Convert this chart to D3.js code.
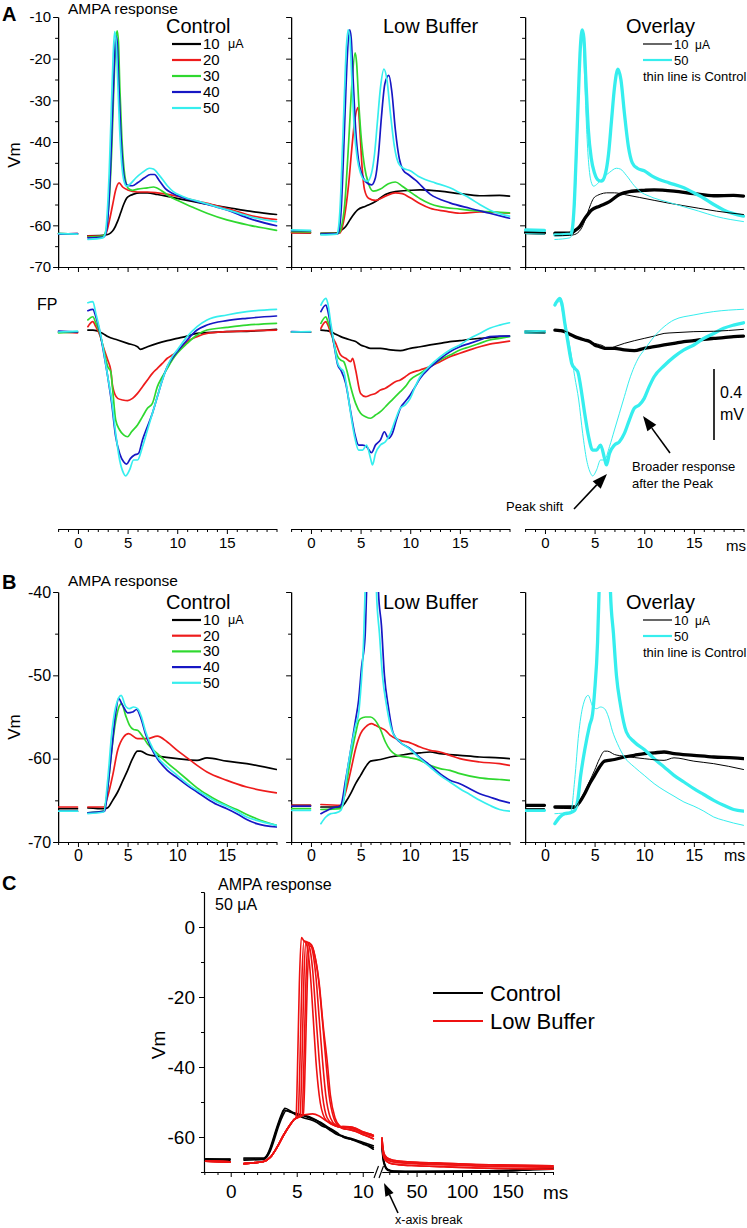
<!DOCTYPE html>
<html><head><meta charset="utf-8">
<script src="https://cdn.jsdelivr.net/npm/d3@7"></script>
<style>body{margin:0;background:#fff} svg{display:block}</style>
</head><body><script>
// ---------------- DATA (time ms, value) ; null = recording gap ----------------
const currents = [10, 20, 30, 40, 50];
const aVmTicks = [-10, -20, -30, -40, -50, -60, -70];
const aVmMinor = [-15, -25, -35, -45, -55, -65];
const bVmTicks = [-40, -50, -60, -70];
const bVmMinor = [-45, -55, -65];
const timeTicks = [0, 5, 10, 15];
const timeMinor = [-2, -1, 1, 2, 3, 4, 6, 7, 8, 9, 11, 12, 13, 14, 16, 17, 18, 19, 20];
const cVmTicks = [0, -20, -40, -60];
const cVmMinor = [10, -10, -30, -50, -70];
const cTimeTicks1 = [0, 5, 10];
const cTimeMinor1 = [-2, -1, 1, 2, 3, 4, 6, 7, 8, 9];
const cTimeTicks2 = [50, 100, 150];
const cTimeMinor2 = [20, 30, 40, 60, 70, 80, 90, 110, 120, 130, 140, 160, 170, 180, 190, 200];
const fpScaleBar = 0.4; // mV

// Panel A, Vm, Control
const aVmCtrl10 = [[-1.95,-62.0],[-0.05,-62.1],[0.5,null],[1.0,-62.5],[2.5,-62.4],[3.0,-62.2],[3.3,-61.8],[3.6,-61.0],[4.0,-59.0],[4.3,-57.0],[4.6,-55.0],[4.9,-53.5],[5.3,-52.8],[5.6,-52.5],[6.2,-52.2],[7.0,-52.2],[8.0,-52.6],[9.5,-53.3],[11,-54.0],[12.3,-54.6],[14,-55.3],[15.5,-55.9],[17.3,-56.6],[20,-57.4]];
const aVmCtrl20 = [[-1.95,-62.1],[-0.05,-62.0],[0.5,null],[1.0,-62.6],[2.6,-62.5],[2.9,-61.5],[3.2,-58.5],[3.5,-55],[3.8,-51.5],[4.15,-49.8],[4.5,-50.8],[5.0,-51.5],[6.0,-52.0],[7.0,-52.0],[8.0,-52.2],[10,-53.0],[12,-54.2],[13.5,-55],[15.5,-56.3],[17.3,-57.6],[20,-58.6]];
const aVmCtrl30 = [[-1.95,-62.0],[-0.05,-62.1],[0.5,null],[1.0,-62.8],[2.5,-62.6],[2.8,-61.5],[3.0,-58],[3.2,-52],[3.4,-42],[3.6,-28],[3.8,-16],[3.95,-13.3],[4.08,-16],[4.22,-27],[4.42,-39],[4.62,-46],[4.82,-49.5],[5.1,-51.2],[5.5,-51.6],[6.0,-51.3],[7.0,-51.0],[7.6,-50.8],[8.5,-51.8],[9.2,-53],[10,-54],[11.5,-55.6],[13,-57.1],[15,-58.7],[17.3,-60.0],[20,-61.2]];
const aVmCtrl40 = [[-1.95,-62.1],[-0.05,-62.0],[0.5,null],[1.0,-63.0],[2.6,-62.8],[2.85,-61.5],[3.05,-57],[3.25,-48],[3.45,-35],[3.65,-22],[3.82,-14.5],[3.95,-16],[4.1,-25],[4.3,-37],[4.5,-45],[4.75,-49.5],[5.0,-50.4],[5.5,-50.5],[6.0,-49.8],[6.7,-48.6],[7.3,-47.8],[7.7,-47.8],[8.2,-49.3],[8.8,-51.2],[9.5,-52.3],[10.5,-53.3],[12,-54.3],[13.5,-55.3],[15,-56.3],[17.3,-58.4],[20,-60.1]];
const aVmCtrl50 = [[-1.95,-62.0],[-0.05,-62.1],[0.5,null],[1.0,-63.4],[2.5,-63.0],[2.75,-62],[2.95,-57],[3.15,-47],[3.35,-33],[3.55,-19],[3.7,-13.5],[3.85,-16],[4.0,-25],[4.2,-37],[4.4,-45],[4.65,-49.5],[4.9,-50.6],[5.3,-50.0],[5.8,-48.7],[6.5,-47.3],[7.2,-46.3],[7.6,-46.5],[8.2,-48],[9.0,-50.5],[9.6,-51.9],[10.5,-53.0],[12.5,-54.5],[15.5,-56.6],[17.3,-57.9],[20,-59.1]];
// Panel A, Vm, Low Buffer
const aVmLb10 = [[-1.95,-61.7],[-0.05,-61.8],[0.5,null],[1.0,-61.9],[2.7,-61.8],[3.0,-61.3],[3.5,-60.3],[4.0,-58.4],[4.7,-56.3],[5.5,-55.4],[6.5,-54.3],[7.5,-52.6],[8.5,-51.9],[10,-51.6],[11,-51.5],[13,-51.8],[15,-52.4],[17,-52.9],[19,-52.8],[20,-53.0]];
const aVmLb20 = [[-1.95,-61.8],[-0.05,-61.8],[0.5,null],[1.0,-62.0],[2.9,-61.9],[3.2,-60],[3.5,-56],[3.8,-50],[4.1,-42],[4.4,-35],[4.75,-31.7],[4.95,-38],[5.15,-46],[5.4,-51.5],[5.8,-53.5],[6.5,-54.0],[7.5,-53.0],[8.5,-52.2],[9.2,-52.4],[10,-53.4],[11,-54.8],[12,-55.9],[13.5,-56.6],[15,-57.1],[17,-56.8],[20,-57.1]];
const aVmLb30 = [[-1.95,-61.5],[-0.05,-61.6],[0.5,null],[1.0,-62.0],[2.8,-61.9],[3.0,-61.0],[3.4,-55],[3.8,-40],[4.1,-27],[4.45,-18.6],[4.6,-21],[4.8,-30],[5.1,-40],[5.4,-46],[5.8,-50],[6.3,-51.8],[7.0,-51.3],[7.8,-50.0],[8.5,-49.6],[9.2,-50.6],[10,-52],[11,-53.6],[12,-54.8],[13,-55.5],[15,-56.1],[17,-56.6],[20,-57.0]];
const aVmLb40 = [[-1.95,-61.3],[-0.05,-61.3],[0.5,null],[1.0,-62.1],[2.7,-62.0],[2.85,-61.0],[3.05,-56],[3.25,-45],[3.45,-32],[3.65,-20],[3.9,-13.1],[4.05,-15],[4.25,-25],[4.5,-37],[4.8,-44.5],[5.1,-47.5],[5.5,-49.5],[6.1,-50.3],[6.5,-48.5],[6.8,-43],[7.1,-34],[7.45,-26],[7.85,-24],[8.15,-28],[8.5,-37],[8.9,-44],[9.3,-46.8],[9.8,-47.8],[10.5,-49.1],[12,-52.5],[14,-54.6],[16,-55.9],[18,-57.1],[20,-58.3]];
const aVmLb50 = [[-1.95,-61.1],[-0.05,-61.2],[0.5,null],[1.0,-62.3],[2.6,-62.1],[2.75,-61.0],[2.95,-55],[3.15,-43],[3.35,-30],[3.55,-18],[3.75,-13.1],[3.92,-15],[4.12,-25],[4.37,-37],[4.67,-44],[5.0,-47.5],[5.4,-49.2],[5.7,-49.4],[6.1,-47.5],[6.4,-43],[6.7,-35],[7.0,-27],[7.35,-22.5],[7.65,-25],[8.0,-33],[8.4,-41],[8.8,-45],[9.3,-46.3],[10,-46.9],[10.8,-48.2],[11.5,-49.0],[12.5,-49.8],[14,-51.0],[15,-52.2],[16,-53.5],[17,-55],[18,-56.3],[19,-57.2],[20,-57.8]];

// Panel A, field potential (mV), Control
const aFpCtrl10 = [[-1.95,0],[-0.05,0],[0.5,null],[1.0,0.011],[1.5,0.011],[2.5,-0.008],[3.0,-0.026],[4.0,-0.045],[5.0,-0.064],[6.0,-0.083],[6.3,-0.098],[7.0,-0.083],[8.0,-0.064],[9.0,-0.049],[10,-0.036],[11,-0.023],[12,-0.008],[13,-0.004],[15,0.002],[17,0.004],[20,0.015]];
const aFpCtrl20 = [[-1.95,0],[-0.05,-0.005],[0.5,null],[1.0,0.03],[1.5,0.058],[1.8,0.03],[2.2,-0.017],[2.6,-0.092],[3.0,-0.158],[3.3,-0.214],[3.5,-0.308],[4.0,-0.374],[4.5,-0.383],[5.0,-0.387],[5.5,-0.374],[6.0,-0.346],[6.5,-0.308],[7.0,-0.27],[7.5,-0.233],[8.0,-0.205],[8.5,-0.177],[9.0,-0.148],[9.5,-0.13],[10,-0.111],[11,-0.054],[12,-0.026],[13,-0.008],[15,0.002],[17,0.006],[20,0.011]];
const aFpCtrl30 = [[-1.95,-0.005],[-0.05,0],[0.5,null],[1.0,0.068],[1.5,0.086],[1.8,0.05],[2.2,-0.008],[2.6,-0.102],[3.0,-0.195],[3.3,-0.223],[3.5,-0.327],[3.8,-0.496],[4.2,-0.552],[4.6,-0.58],[5.0,-0.59],[5.4,-0.562],[6.0,-0.524],[6.5,-0.477],[7.0,-0.43],[7.5,-0.402],[8.0,-0.308],[8.5,-0.252],[9.0,-0.205],[9.5,-0.158],[10,-0.12],[11,-0.064],[12,-0.017],[13,0.011],[15,0.026],[17,0.039],[20,0.049]];
const aFpCtrl40 = [[-1.95,0.005],[-0.05,0],[0.5,null],[1.0,0.12],[1.5,0.128],[1.8,0.086],[2.2,0.002],[2.6,-0.12],[3.0,-0.252],[3.4,-0.402],[3.8,-0.59],[4.2,-0.684],[4.6,-0.731],[4.9,-0.744],[5.3,-0.712],[5.7,-0.693],[6.1,-0.684],[6.5,-0.608],[7.0,-0.533],[7.5,-0.458],[8.0,-0.364],[8.5,-0.27],[9.0,-0.195],[9.5,-0.148],[10,-0.111],[11,-0.045],[12,0.011],[13,0.039],[15,0.064],[17,0.077],[20,0.09]];
const aFpCtrl50 = [[-1.95,0],[-0.05,0.005],[0.5,null],[1.0,0.165],[1.5,0.171],[1.8,0.105],[2.2,0.011],[2.6,-0.111],[3.0,-0.252],[3.4,-0.383],[3.8,-0.571],[4.2,-0.721],[4.6,-0.796],[4.8,-0.811],[5.2,-0.777],[5.6,-0.721],[6.0,-0.721],[6.5,-0.646],[7.0,-0.552],[7.5,-0.458],[8.0,-0.364],[8.5,-0.27],[9.0,-0.195],[9.5,-0.139],[10,-0.101],[11,-0.026],[12,0.03],[13,0.068],[15,0.096],[17,0.115],[20,0.128]];
// Panel A, field potential (mV), Low Buffer
const aFpLb10 = [[-1.95,0],[-0.05,0],[0.5,null],[1.0,0.011],[1.5,0.008],[2.0,0.002],[2.5,-0.013],[3.0,-0.026],[3.5,-0.036],[4.0,-0.045],[4.5,-0.054],[5.0,-0.073],[5.5,-0.083],[6.0,-0.092],[7.0,-0.092],[8.0,-0.101],[9.0,-0.105],[10,-0.092],[11,-0.083],[12,-0.073],[13,-0.064],[14,-0.054],[15,-0.049],[16,-0.041],[17,-0.036],[18,-0.032],[19,-0.026],[20,-0.023]];
const aFpLb20 = [[-1.95,0],[-0.05,0],[0.5,null],[1.0,0.021],[1.5,0.058],[1.7,0.04],[2.0,-0.008],[2.5,-0.064],[3.0,-0.13],[3.5,-0.148],[4.0,-0.167],[4.2,-0.148],[4.5,-0.214],[5.0,-0.346],[5.5,-0.364],[6.0,-0.355],[6.5,-0.346],[7.0,-0.327],[7.5,-0.317],[8.0,-0.299],[8.5,-0.28],[9.0,-0.27],[9.5,-0.252],[10,-0.233],[11,-0.214],[12,-0.195],[13,-0.167],[14,-0.139],[15,-0.12],[16,-0.101],[17,-0.083],[18,-0.068],[19,-0.06],[20,-0.051]];
const aFpLb30 = [[-1.95,0],[-0.05,0],[0.5,null],[1.0,0.049],[1.5,0.086],[1.7,0.06],[2.0,0.011],[2.3,-0.064],[2.7,-0.139],[3.0,-0.158],[3.3,-0.167],[3.6,-0.214],[4.0,-0.308],[4.5,-0.402],[5.0,-0.458],[5.5,-0.477],[6.0,-0.486],[6.5,-0.468],[7.0,-0.449],[7.5,-0.421],[8.0,-0.392],[8.5,-0.364],[9.0,-0.336],[9.5,-0.308],[10,-0.27],[11,-0.233],[12,-0.195],[13,-0.158],[14,-0.13],[15,-0.101],[16,-0.083],[17,-0.064],[18,-0.045],[19,-0.036],[20,-0.026]];
const aFpLb40 = [[-1.95,0.002],[-0.05,0],[0.5,null],[1.0,0.115],[1.5,0.152],[1.7,0.12],[2.0,0.03],[2.3,-0.064],[2.7,-0.186],[3.0,-0.214],[3.5,-0.289],[4.0,-0.449],[4.4,-0.571],[4.8,-0.637],[5.2,-0.637],[5.6,-0.646],[6.1,-0.68],[6.5,-0.637],[7.0,-0.608],[7.4,-0.562],[7.8,-0.599],[8.2,-0.571],[8.6,-0.496],[9.0,-0.43],[9.5,-0.392],[10,-0.355],[10.5,-0.308],[11,-0.261],[12,-0.2],[13,-0.152],[14,-0.111],[15,-0.083],[16,-0.064],[17,-0.045],[18,-0.026],[19,-0.023],[20,-0.023]];
const aFpLb50 = [[-1.95,0],[-0.05,0.002],[0.5,null],[1.0,0.152],[1.5,0.19],[1.7,0.161],[2.0,0.049],[2.3,-0.054],[2.7,-0.177],[3.0,-0.205],[3.3,-0.223],[3.6,-0.308],[4.0,-0.458],[4.4,-0.59],[4.8,-0.665],[5.2,-0.665],[5.6,-0.637],[6.0,-0.712],[6.2,-0.749],[6.5,-0.684],[7.0,-0.637],[7.5,-0.618],[8.0,-0.571],[8.5,-0.496],[9.0,-0.43],[9.5,-0.411],[10,-0.374],[10.5,-0.308],[11,-0.252],[12,-0.19],[13,-0.14],[14,-0.101],[15,-0.073],[16,-0.036],[17,-0.008],[18,0.021],[19,0.039],[20,0.052]];

// Panel B, Vm, Control
const bVmCtrl10 = [[-1.95,-66.0],[-0.05,-66.0],[0.5,null],[1.0,-65.9],[2.7,-66.0],[3.0,-65.9],[3.5,-65.0],[4.0,-64.0],[4.5,-62.7],[5.0,-61.4],[5.5,-60.0],[6.0,-59.1],[6.3,-59.1],[7.0,-59.5],[8.0,-59.7],[10,-60.0],[12,-60.2],[13,-59.9],[15,-60.3],[17,-60.6],[20,-61.3]];
const bVmCtrl20 = [[-1.95,-65.8],[-0.05,-65.8],[0.5,null],[1.0,-65.8],[2.6,-65.8],[3.0,-64.5],[3.5,-62.0],[4.0,-59.0],[4.6,-57.4],[5.1,-57.0],[6.0,-57.6],[7.0,-57.6],[8.0,-57.3],[9.0,-58.0],[10,-59.0],[11,-59.9],[12,-60.8],[13,-61.6],[15,-62.6],[17,-63.4],[20,-64.1]];
const bVmCtrl30 = [[-1.95,-66.3],[-0.05,-66.3],[0.5,null],[1.0,-66.5],[2.6,-66.3],[3.0,-63.5],[3.4,-59.0],[3.8,-55.5],[4.2,-53.6],[4.4,-53.4],[4.8,-54.8],[5.2,-56.0],[5.6,-56.5],[6.0,-56.6],[6.5,-57.3],[7.0,-58.2],[8.0,-59.4],[9.0,-60.5],[10,-61.5],[11,-62.5],[12,-63.5],[13,-64.3],[14,-65.0],[15,-65.6],[16,-66.1],[17,-66.7],[18,-67.2],[20,-68.0]];
const bVmCtrl40 = [[-1.95,-66.3],[-0.05,-66.3],[0.5,null],[1.0,-66.5],[2.7,-66.3],[3.0,-63.5],[3.4,-59.0],[3.8,-54.5],[4.1,-52.8],[4.5,-53.6],[5.0,-54.5],[5.5,-54.4],[5.9,-54.1],[6.3,-55.0],[6.8,-57.0],[7.3,-58.5],[8.0,-60.0],[9.0,-61.4],[10,-62.3],[11,-63.2],[12,-64.0],[13,-64.8],[14,-65.5],[15,-66.0],[16,-66.6],[17,-67.3],[18,-67.8],[20,-68.2]];
const bVmCtrl50 = [[-1.95,-66.3],[-0.05,-66.3],[0.5,null],[1.0,-66.6],[2.6,-66.4],[3.0,-62.5],[3.4,-57.0],[3.8,-53.8],[4.35,-52.4],[4.8,-53.7],[5.2,-54.0],[5.6,-53.8],[6.0,-54.0],[6.4,-55.0],[6.8,-56.7],[7.3,-58.2],[8.0,-59.8],[9.0,-61.0],[10,-62.0],[11,-63.0],[12,-63.8],[13,-64.5],[14,-65.2],[15,-65.7],[16,-66.3],[17,-67.0],[18,-67.4],[20,-68.0]];
// Panel B, Vm, Low Buffer
const bVmLb10 = [[-1.95,-65.6],[-0.05,-65.6],[0.5,null],[1.0,-65.8],[3.0,-65.8],[3.5,-65.2],[4.0,-64.2],[4.5,-63.0],[5.0,-62.0],[5.5,-61.0],[6.0,-60.3],[7.0,-60.1],[8.0,-59.8],[9.0,-59.6],[10,-59.4],[11,-59.3],[12,-59.2],[13,-59.4],[15,-59.6],[17,-59.8],[19,-59.9],[20,-60.0]];
const bVmLb20 = [[-1.95,-65.6],[-0.05,-65.6],[0.5,null],[1.0,-65.5],[3.0,-65.6],[3.5,-64.0],[4.0,-61.5],[4.5,-58.8],[5.0,-57.0],[5.5,-56.2],[6.1,-55.8],[6.5,-56.0],[7.0,-56.3],[7.5,-56.6],[8.0,-57.2],[9.0,-57.8],[10,-58.1],[11,-58.6],[12,-59.0],[13,-59.2],[14,-59.6],[15,-60.0],[17,-60.4],[19,-60.6],[20,-60.8]];
const bVmLb30 = [[-1.95,-66.0],[-0.05,-66.0],[0.5,null],[1.0,-66.1],[3.0,-66.0],[3.5,-63.5],[4.0,-60.0],[4.5,-57.0],[4.8,-55.5],[5.0,-55.2],[5.5,-55.0],[6.0,-55.0],[6.4,-55.3],[7.0,-56.5],[7.5,-58.0],[8.0,-59.0],[8.5,-59.5],[9.0,-59.7],[10,-59.9],[11,-60.2],[12,-60.8],[13,-61.2],[14,-61.4],[15,-61.8],[17,-62.3],[19,-62.5],[20,-62.6]];
const bVmLb40 = [[-1.95,-65.7],[-0.05,-65.7],[0.5,null],[1.0,-66.6],[2.0,-66.0],[3.0,-65.6],[3.5,-62.5],[4.0,-59.0],[4.5,-55.3],[4.8,-53.0],[5.1,-49.0],[5.45,-45.4],[5.6,-40],[5.9,-25],[6.3,-14],[6.6,-28],[6.8,-40],[7.1,-44],[7.4,-50],[7.8,-53.8],[8.3,-57.0],[8.95,-58.0],[10,-58.8],[10.9,-59.8],[12,-60.8],[13,-61.8],[14,-62.6],[15,-63.0],[16,-63.6],[17,-64.2],[18,-64.6],[19,-65.0],[20,-65.3]];
const bVmLb50 = [[-1.95,-66.2],[-0.05,-66.2],[0.5,null],[1.0,-67.8],[1.5,-67.0],[2.0,-66.6],[2.5,-66.5],[3.0,-66.2],[3.3,-65.0],[3.6,-62.0],[4.0,-59.0],[4.5,-56.0],[4.8,-54.6],[5.0,-52.0],[5.3,-46.0],[5.45,-40],[5.8,-25],[6.1,-14],[6.4,-28],[6.6,-40],[6.9,-45],[7.2,-50],[7.6,-53.5],[8.2,-56.8],[9.0,-58.0],[10,-58.9],[11,-60.0],[12,-61.0],[13,-62.0],[14,-62.8],[15,-63.6],[16,-64.3],[17,-65.0],[18,-65.6],[19,-66.1],[20,-66.3]];

// Panel C, 50 uA, Vm (ms axis with a break between 10.8 and 12 ms)
const cCtrl1 = [[-1.9,-66.4],[-0.05,-66.6],[0.5,null],[1.0,-66.3],[2.5,-66.2],[2.8,-65.0],[3.0,-63.5],[3.3,-60.0],[3.6,-56.5],[3.9,-53.5],[4.1,-51.8],[4.5,-52.5],[5.0,-53.7],[5.5,-53.7],[6.0,-54.3],[6.5,-55.2],[7.0,-56.6],[7.5,-58.0],[8.0,-59.2],[8.5,-59.7],[9.0,-60.5],[9.5,-61.2],[10.0,-62.0],[10.5,-62.8],[10.8,-63.5],[11.4,null],[12,-62.5],[13,-66.0],[15,-68.3],[18,-69.5],[25,-69.9],[50,-69.9],[100,-69.8],[150,-69.6],[200,-69.2]];
const cCtrl2 = [[-1.9,-66.2],[-0.05,-66.3],[0.5,null],[1.0,-66.6],[2.5,-66.4],[2.8,-65.4],[3.0,-64.0],[3.3,-60.8],[3.6,-57.2],[3.9,-54.3],[4.2,-52.5],[4.6,-53.0],[5.0,-53.5],[5.5,-54.5],[6.0,-55.0],[6.5,-55.8],[7.0,-57.0],[7.5,-57.5],[8.0,-58.6],[8.5,-60.0],[9.0,-60.6],[9.5,-61.0],[10.0,-61.8],[10.5,-62.5],[10.8,-63.0],[11.4,null],[12,-62.0],[13,-65.5],[15,-68.0],[18,-69.3],[25,-69.8],[50,-70.0],[100,-69.9],[150,-69.7],[200,-68.6]];
const cCtrl3 = [[-1.9,-66.6],[-0.05,-66.4],[0.5,null],[1.0,-66.0],[2.5,-66.0],[2.8,-64.8],[3.0,-63.0],[3.3,-59.5],[3.6,-56.0],[3.9,-53.0],[4.0,-52.3],[4.5,-52.8],[5.0,-53.3],[5.5,-53.9],[6.0,-54.6],[6.8,-55.8],[7.5,-57.6],[8.2,-59.5],[9.0,-60.3],[10.0,-61.5],[10.8,-62.5],[11.4,null],[12,-61.5],[13,-65.0],[15,-67.8],[18,-69.2],[25,-69.7],[50,-69.8],[100,-69.7],[150,-69.5],[200,-68.9]];
const cRedRise = [[-1.9,-66.9],[-0.05,-67.1],[0.5,null],[1.0,-67.6],[2.5,-67.0],[3.0,-65.8],[3.5,-63.0],[4.0,-59.5],[4.5,-56.5],[4.8,-55.0]];
const cRedSpike1 = [[4.95,-54.4],[5.05,-42],[5.2,-16],[5.35,-3.0],[5.55,-4.0],[5.75,-5.0],[6.0,-12],[6.25,-26],[6.45,-38],[6.7,-48],[7.1,-54.5],[7.6,-56.3],[8.0,-56.9]];
const cRedSpike2 = [[5.1,-54.2],[5.25,-38],[5.4,-14],[5.55,-4.0],[5.75,-4.2],[5.95,-5.5],[6.2,-12],[6.45,-25],[6.7,-38],[6.95,-48],[7.3,-54.5],[7.8,-56.5],[8.2,-57.1]];
const cRedSpike3 = [[5.25,-54.0],[5.4,-38],[5.55,-14],[5.7,-4.3],[5.95,-4.5],[6.15,-6],[6.45,-14],[6.7,-26],[6.95,-38],[7.2,-48],[7.55,-54.5],[8.0,-56.8],[8.3,-57.2]];
const cRedSpike4 = [[5.4,-53.8],[5.55,-38],[5.7,-15],[5.85,-4.8],[6.1,-5.0],[6.3,-7],[6.65,-15],[6.95,-27],[7.2,-38],[7.45,-48],[7.8,-54.5],[8.2,-56.9]];
const cRedSpike5 = [[5.5,-53.7],[5.65,-38],[5.8,-16],[5.95,-5.5],[6.15,-5.5],[6.35,-8],[6.7,-16],[7.0,-28],[7.3,-38],[7.55,-48],[7.9,-54.5],[8.3,-57.0]];
const cRedNoSpike = [[5.2,-54.0],[5.7,-53.6],[6.2,-53.4],[6.7,-54.0],[7.2,-55.3],[7.7,-56.4],[8.1,-57.0]];
const cRedTailA = [[8.5,-57.2],[9.0,-57.4],[9.5,-57.9],[10.0,-58.8],[10.5,-59.4],[10.8,-59.8],[11.4,null],[12,-60.6],[13,-63.8],[15,-65.8],[20,-66.8],[30,-67.3],[50,-67.6],[80,-67.9],[110,-68.2],[150,-68.4],[200,-68.6]];
const cRedTailB = [[8.5,-57.6],[9.0,-57.9],[9.5,-58.4],[10.0,-59.3],[10.5,-60.0],[10.8,-60.5],[11.4,null],[12,-61.2],[13,-64.5],[15,-66.4],[20,-67.4],[30,-67.9],[50,-68.2],[80,-68.5],[110,-68.8],[150,-69.0],[200,-69.2]];
const cRedTailC = [[8.5,-57.0],[9.0,-57.1],[9.5,-57.6],[10.0,-58.5],[10.5,-59.1],[10.8,-59.5],[11.4,null],[12,-60.2],[13,-63.2],[15,-65.2],[20,-66.3],[30,-66.9],[50,-67.2],[80,-67.5],[110,-67.8],[150,-68.0],[200,-68.2]];

// ---------------- RENDER ----------------
const COLORS = {10:"#000000", 20:"#ee1c1c", 30:"#2fd82f", 40:"#1717c4", 50:"#36eeee"};
const FONT = "'Liberation Sans', Arial, Helvetica, sans-serif";
const NARROW = "'Liberation Sans Narrow', 'Liberation Sans', Arial, sans-serif";
const svg = d3.select("body").append("svg").attr("width",747).attr("height",1228);
svg.append("rect").attr("width",747).attr("height",1228).attr("fill","#fff");
const defs = svg.append("defs");

const panelRanges = [[58.1,276.5],[291.1,509.5],[525.1,743.5]];
const xP = panelRanges.map(r => d3.scaleLinear().domain([-2,20]).range(r));
const yA = d3.scaleLinear().domain([-70,-10]).range([267,17]);
const yFP = d3.scaleLinear().domain([0,-fpScaleBar]).range([332,403]);
const yB = d3.scaleLinear().domain([-70,-40]).range([842,592]);
const xC = d3.scaleLinear().domain([-2,10.8,12,200]).range([204.3,373.3,382,553]);
const xC1 = d3.scaleLinear().domain([-2,10.8]).range([204.3,373.3]);
const xC2 = d3.scaleLinear().domain([12,200]).range([382,553]);
const yC = d3.scaleLinear().domain([-70,10]).range([1172,892]);

function trace(g, data, x, y, color, w) {
  const line = d3.line().defined(d => d[1] !== null).x(d => x(d[0])).y(d => y(d[1])).curve(d3.curveMonotoneX);
  g.append("path").attr("d", line(data)).attr("fill","none").attr("stroke",color)
    .attr("stroke-width",w).attr("stroke-linejoin","round").attr("stroke-linecap","round");
}
function styleAxis(g, size, family) {
  g.attr("font-family", family || FONT).attr("font-size", size);
  g.selectAll("path.domain").attr("stroke","#000").attr("stroke-width",1.1);
  g.selectAll(".tick line").attr("stroke","#000").attr("stroke-width",1);
  g.selectAll(".tick text").attr("fill","#000");
}
function yAxis(x0, y, major, minor, labels, size, pad) {
  const g1 = svg.append("g").attr("transform",`translate(${x0},0)`)
    .call(d3.axisLeft(y).tickValues(minor).tickSize(3).tickSizeOuter(0).tickFormat(""));
  styleAxis(g1, size);
  const g2 = svg.append("g").attr("transform",`translate(${x0},0)`)
    .call(d3.axisLeft(y).tickValues(major).tickSize(5).tickSizeOuter(0).tickPadding(pad || 2)
      .tickFormat(labels ? (d => String(d)) : ""));
  styleAxis(g2, size);
}
function xAxis(y0, x, major, minor, labels, size, family, pad) {
  const g1 = svg.append("g").attr("transform",`translate(0,${y0})`)
    .call(d3.axisBottom(x).tickValues(minor).tickSize(3).tickSizeOuter(0).tickFormat(""));
  styleAxis(g1, size);
  const g2 = svg.append("g").attr("transform",`translate(0,${y0})`)
    .call(d3.axisBottom(x).tickValues(major).tickSize(5).tickSizeOuter(0).tickPadding(pad||3)
      .tickFormat(labels ? (d => String(d)) : ""));
  styleAxis(g2, size, family);
}
function txt(x, y, s, o = {}) {
  const t = svg.append("text").attr("x",x).attr("y",y).text(s)
    .attr("font-family", o.family || FONT).attr("font-size", o.size || 14).attr("fill","#000");
  if (o.anchor) t.attr("text-anchor", o.anchor);
  if (o.weight) t.attr("font-weight", o.weight);
  if (o.dy) t.attr("dy", o.dy);
  if (o.rotate) t.attr("transform", `rotate(${o.rotate},${x},${y})`);
  return t;
}
function arrow(x1, y1, x2, y2, L = 15, W = 11) {
  const a = Math.atan2(y2 - y1, x2 - x1);
  const bx = x2 - L * Math.cos(a), by = y2 - L * Math.sin(a);
  const px = -Math.sin(a) * W / 2, py = Math.cos(a) * W / 2;
  svg.append("line").attr("x1",x1).attr("y1",y1).attr("x2",bx).attr("y2",by)
    .attr("stroke","#000").attr("stroke-width",1.6);
  svg.append("path").attr("d",`M${x2},${y2}L${bx+px},${by+py}L${bx-px},${by-py}Z`).attr("fill","#000");
}
function clip(id, x0, y0, x1, y1) {
  defs.append("clipPath").attr("id",id).append("rect").attr("x",x0).attr("y",y0).attr("width",x1-x0).attr("height",y1-y0);
  return svg.append("g").attr("clip-path",`url(#${id})`);
}

const lw = 1.7, thin = 1.0, thick = 3.3;
const ctrlA = [aVmCtrl10,aVmCtrl20,aVmCtrl30,aVmCtrl40,aVmCtrl50];
const lbA = [aVmLb10,aVmLb20,aVmLb30,aVmLb40,aVmLb50];
const ctrlFP = [aFpCtrl10,aFpCtrl20,aFpCtrl30,aFpCtrl40,aFpCtrl50];
const lbFP = [aFpLb10,aFpLb20,aFpLb30,aFpLb40,aFpLb50];
const ctrlB = [bVmCtrl10,bVmCtrl20,bVmCtrl30,bVmCtrl40,bVmCtrl50];
const lbB = [bVmLb10,bVmLb20,bVmLb30,bVmLb40,bVmLb50];

// ----- Panel A: Vm -----
panelRanges.forEach((r, i) => {
  yAxis(r[0], yA, aVmTicks, aVmMinor, i === 0, 15);
  xAxis(267, xP[i], timeTicks, timeMinor, false, 14);
});
{
  const g1 = svg.append("g"), g2 = svg.append("g"), g3 = svg.append("g");
  currents.forEach((c, k) => { trace(g1, ctrlA[k], xP[0], yA, COLORS[c], lw); trace(g2, lbA[k], xP[1], yA, COLORS[c], lw); });
  trace(g3, aVmLb10, xP[2], yA, COLORS[10], thick);
  trace(g3, aVmLb50, xP[2], yA, COLORS[50], thick);
  trace(g3, aVmCtrl10, xP[2], yA, COLORS[10], thin);
  trace(g3, aVmCtrl50, xP[2], yA, COLORS[50], thin);
}
// ----- Panel A: FP -----
panelRanges.forEach((r, i) => xAxis(529, xP[i], timeTicks, timeMinor, true, 15, NARROW, 3));
{
  const g1 = svg.append("g"), g2 = svg.append("g"), g3 = svg.append("g");
  currents.forEach((c, k) => { trace(g1, ctrlFP[k], xP[0], yFP, COLORS[c], lw); trace(g2, lbFP[k], xP[1], yFP, COLORS[c], lw); });
  trace(g3, aFpLb10, xP[2], yFP, COLORS[10], thick);
  trace(g3, aFpLb50, xP[2], yFP, COLORS[50], thick);
  trace(g3, aFpCtrl10, xP[2], yFP, COLORS[10], thin);
  trace(g3, aFpCtrl50, xP[2], yFP, COLORS[50], thin);
}
// scale bar
svg.append("line").attr("x1",714).attr("x2",714).attr("y1",yFP(-0.208)).attr("y2",yFP(-0.208-fpScaleBar))
  .attr("stroke","#000").attr("stroke-width",1.6);
txt(720, 398, "0.4", {size:16});
txt(720, 420, "mV", {size:16});
txt(632, 471, "Broader response", {size:13});
txt(632, 488, "after the Peak", {size:13});
arrow(670, 453, 643, 416);
txt(506, 511, "Peak shift", {size:13});
arrow(574, 509, 607, 474);
txt(726, 551, "ms", {size:15, family:NARROW});

// ----- Panel B -----
panelRanges.forEach((r, i) => {
  yAxis(r[0], yB, bVmTicks, bVmMinor, i === 0, 16);
  xAxis(842, xP[i], timeTicks, timeMinor, true, 16, FONT, 3);
});
{
  const g1 = clip("cb1", 58, 592, 277, 842), g2 = clip("cb2", 291, 592, 510, 842), g3 = clip("cb3", 525, 592, 744, 842);
  currents.forEach((c, k) => { trace(g1, ctrlB[k], xP[0], yB, COLORS[c], lw); trace(g2, lbB[k], xP[1], yB, COLORS[c], lw); });
  trace(g3, bVmLb10, xP[2], yB, COLORS[10], thick);
  trace(g3, bVmLb50, xP[2], yB, COLORS[50], thick);
  trace(g3, bVmCtrl10, xP[2], yB, COLORS[10], thin);
  trace(g3, bVmCtrl50, xP[2], yB, COLORS[50], thin);
}
txt(724, 861, "ms", {size:16});

// ----- Titles / legends A & B -----
function panelHeads(letterY, ampaY, titleY, legY0, legStep, ovLegY0, vmY, letter) {
  txt(2, letterY, letter, {size:20, weight:"bold"});
  txt(68, ampaY, "AMPA response", {size:15.5});
  txt(166, titleY, "Control", {size:20});
  txt(383, titleY, "Low Buffer", {size:20});
  txt(626, titleY, "Overlay", {size:20});
  currents.forEach((c, k) => {
    const y = legY0 + k * legStep;
    svg.append("line").attr("x1",172).attr("x2",201).attr("y1",y).attr("y2",y).attr("stroke",COLORS[c]).attr("stroke-width",2.2);
    txt(203, y + 5, String(c), {size:15});
  });
  txt(228, legY0 + 4, "\u03bcA", {size:12.5});
  svg.append("line").attr("x1",643).attr("x2",672).attr("y1",ovLegY0).attr("y2",ovLegY0).attr("stroke",COLORS[10]).attr("stroke-width",1.2);
  svg.append("line").attr("x1",643).attr("x2",672).attr("y1",ovLegY0+16).attr("y2",ovLegY0+16).attr("stroke",COLORS[50]).attr("stroke-width",2.2);
  txt(674, ovLegY0 + 4.5, "10", {size:13});
  txt(695, ovLegY0 + 4.5, "\u03bcA", {size:12});
  txt(674, ovLegY0 + 20.5, "50", {size:13});
  txt(643, ovLegY0 + 37, "thin line is Control", {size:13});
  txt(14, vmY, "Vm", {size:17, anchor:"middle", dy:"0.35em", rotate:-90});
}
panelHeads(21, 13.5, 33, 44, 16, 44, 155, "A");
txt(37, 310, "FP", {size:16});
panelHeads(589, 586, 609, 620, 15.7, 620, 727, "B");

// ----- Panel C -----
txt(2, 890, "C", {size:20, weight:"bold"});
txt(218, 890, "AMPA response", {size:16});
txt(215, 910, "50 \u03bcA", {size:16});
yAxis(204, yC, cVmTicks, cVmMinor, true, 19, 4);
xAxis(1172, xC1, cTimeTicks1, cTimeMinor1, true, 19, FONT, 8);
xAxis(1172, xC2, cTimeTicks2, cTimeMinor2, true, 19, FONT, 8);
txt(543, 1199, "ms", {size:19});
// axis break marks
svg.append("line").attr("x1",374).attr("y1",1178).attr("x2",378.5).attr("y2",1166).attr("stroke","#000").attr("stroke-width",1.1);
svg.append("line").attr("x1",379).attr("y1",1178).attr("x2",383.5).attr("y2",1166).attr("stroke","#000").attr("stroke-width",1.1);
arrow(398, 1213, 384, 1183, 13, 9);
txt(395, 1224, "x-axis break", {size:12.5});
txt(158, 1045, "Vm", {size:19, anchor:"middle", dy:"0.35em", rotate:-90});
{
  const g = svg.append("g");
  [cCtrl1, cCtrl2, cCtrl3].forEach(d => trace(g, d, xC, yC, "#000", 1.6));
  const reds = [
    cRedRise.concat(cRedSpike1, cRedTailA),
    cRedRise.concat(cRedSpike2, cRedTailB),
    cRedRise.concat(cRedSpike3, cRedTailC),
    cRedRise.concat(cRedSpike4, cRedTailA),
    cRedRise.concat(cRedSpike5, cRedTailB),
    cRedRise.concat(cRedNoSpike, cRedTailC)
  ];
  reds.forEach(d => trace(g, d, xC, yC, "#ee1111", 1.6));
}
svg.append("line").attr("x1",433).attr("x2",483).attr("y1",993).attr("y2",993).attr("stroke","#000").attr("stroke-width",2);
svg.append("line").attr("x1",433).attr("x2",483).attr("y1",1021).attr("y2",1021).attr("stroke","#ee1111").attr("stroke-width",2);
txt(490, 1001, "Control", {size:22});
txt(490, 1029, "Low Buffer", {size:22});
</script></body></html>
